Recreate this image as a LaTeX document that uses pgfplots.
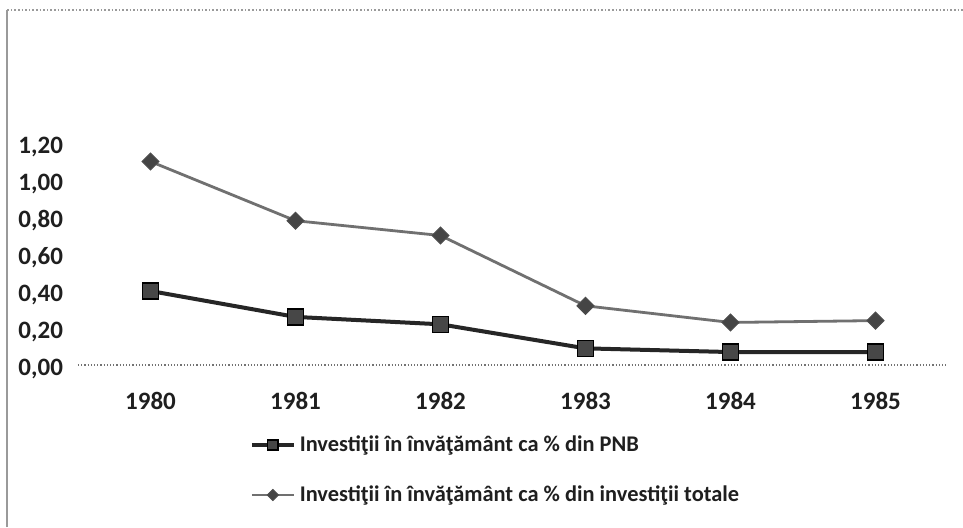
\documentclass[border=0pt]{standalone}
\usepackage{pgfplots}
\pgfplotsset{compat=1.18}
\usepackage{fontspec}
\setmainfont{Carlito}
\definecolor{darkser}{HTML}{262626}
\definecolor{darkfill}{HTML}{474747}
\definecolor{grayser}{HTML}{707070}
\definecolor{diafill}{HTML}{454545}
\definecolor{framegray}{HTML}{9A9A9A}
\begin{document}
\begin{tikzpicture}
\useasboundingbox (0,0) rectangle (481.5pt,263.5pt);
\fill[white] (0,0) rectangle (481.5pt,263.5pt);
% chart-area frame (left and top)
\draw[framegray, line width=1.2pt] (3.6pt,0) -- (3.6pt,258.5pt);
\draw[framegray, densely dotted, line width=0.8pt] (3.6pt,258.5pt) -- (481.5pt,258.5pt);
\begin{axis}[
  at={(39pt,81pt)}, anchor=south west,
  scale only axis, width=435pt, height=111pt,
  xmin=-0.5, xmax=5.5, ymin=0, ymax=1.2,
  xtick={0,1,2,3,4,5},
  xticklabels={1980,1981,1982,1983,1984,1985},
  ytick={0,0.2,0.4,0.6,0.8,1.0,1.2},
  axis line style={draw=none},
  tick style={draw=none},
  /pgf/number format/.cd, use comma, fixed, fixed zerofill, precision=2, assume math mode=true,
  /pgfplots/.cd,
  tick label style={font=\fontsize{12.5}{15}\selectfont\bfseries, text=black!88},
  xticklabel style={yshift=-10pt},
  yticklabel style={xshift=-4pt, yshift=-2pt},
  clip=false,
  legend cell align=left,
  legend style={at={(0.197,-0.473)}, anchor=west, draw=none, fill=none,
    inner sep=0pt, row sep=13pt,
    font=\fontsize{11.2}{13.5}\selectfont\bfseries,
    nodes={inner sep=0pt, text height=9pt, text depth=3pt, text=black!88}},
  legend image code/.code={
    \draw[#1,/tikz/every mark/.append style={scale=0.65}, mark repeat=2, mark phase=2]
      plot coordinates {(0pt,0pt) (10.5pt,0pt) (21pt,0pt)};
    \pgfsetlinewidth{0pt}\pgfpathmoveto{\pgfqpoint{24pt}{0pt}}\pgfusepath{discard}
  },
]
\draw[black!55, densely dotted, line width=0.6pt] (rel axis cs:0,0) -- (rel axis cs:1,0);
\addplot[darkser, line width=2pt, mark=square*, mark size=4pt,
  mark options={fill=darkfill, draw=black, line width=0.8pt}]
  coordinates {(0,0.40) (1,0.26) (2,0.22) (3,0.09) (4,0.07) (5,0.07)};
\addlegendentry{Investiţii în învăţământ ca \% din PNB}
\addplot[grayser, line width=1.4pt, mark=square*, mark size=3pt,
  mark options={rotate=45, fill=diafill, draw=black!70, line width=0.5pt}]
  coordinates {(0,1.10) (1,0.78) (2,0.70) (3,0.32) (4,0.23) (5,0.24)};
\addlegendentry{Investiţii în învăţământ ca \% din investiţii totale}
\end{axis}
\end{tikzpicture}
\end{document}
